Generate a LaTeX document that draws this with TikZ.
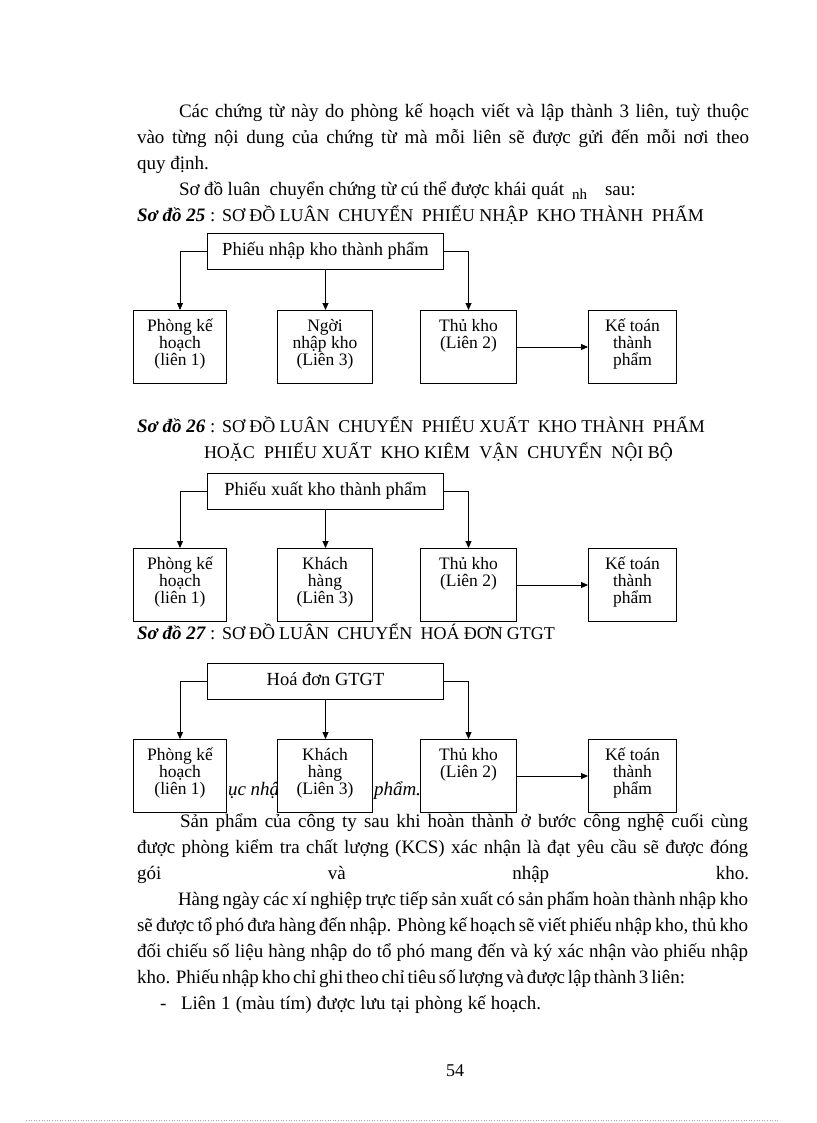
\documentclass[tikz,border=0pt]{standalone}
\usepackage{fontspec}
\setmainfont{Liberation Serif}
\usetikzlibrary{arrows.meta}
\newcommand{\bodyfont}{\fontsize{19pt}{26pt}\selectfont\spaceskip=.25em plus 1fil minus .2em\relax}
\newcommand{\capfont}{\fontsize{18pt}{24pt}\selectfont\spaceskip=.25em plus 1fil minus .2em\relax}
\newcommand{\boxfont}{\fontsize{17.5pt}{17pt}\selectfont\lineskiplimit=-100pt\relax}
\newcommand{\jl}[2]{\makebox[#1][s]{#2}}
\newcommand{\bt}[2]{\parbox[c][73pt][t]{#1}{\centering\boxfont\rule{0pt}{21pt}#2\par}}
\begin{document}
\begin{tikzpicture}[x=1pt,y=-1pt,
  box/.style={draw, line width=1pt, inner sep=0pt, fill=white, anchor=north west},
  topbox/.style={draw, line width=1pt, inner sep=0pt, fill=white, minimum width=236pt, minimum height=36pt, anchor=north west, text height=12pt, text depth=4pt, font=\fontsize{18.5pt}{20pt}\selectfont},
  arr/.style={line width=0.9pt, -{Triangle[length=7pt,width=6pt]}},
  txt/.style={anchor=base west, inner sep=0pt, outer sep=0pt}]
\useasboundingbox[fill=white] (0,0) rectangle (816,1123);

% ---- opening paragraph
\node[txt] (p1) at (179,118) {\bodyfont\jl{570pt}{Các chứng từ này do phòng kế hoạch viết và lập thành 3 liên, tuỳ thuộc}};
\node[txt] (p2) at (137,144) {\bodyfont\jl{612pt}{vào từng nội dung của chứng từ mà mỗi liên sẽ được gửi đến mỗi nơi theo}};
\node[txt] (p3) at (137,170) {\bodyfont quy định.};
\node[txt] (p4) at (179,196) {\bodyfont\jl{385pt}{Sơ đồ luân\ \ chuyển chứng từ cú thể được khái quát}};
\node[txt] (p4b) at (572,200) {\fontsize{15pt}{18pt}\selectfont nh};
\node[txt] (p4c) at (605,196) {\bodyfont sau:};

% ---- titles
\node[txt] (s25) at (137,222) {\bodyfont\bfseries\itshape Sơ đồ 25};
\node[txt] (s25c) at (210,222) {\bodyfont :};
\node[txt] (s25t) at (222,222) {\capfont\jl{482pt}{SƠ ĐỒ LUÂN\ \ CHUYỂN\ \ PHIẾU NHẬP\ \ KHO THÀNH\ \ PHẨM}};

\node[txt] (s26) at (137,432) {\bodyfont\bfseries\itshape Sơ đồ 26};
\node[txt] (s26c) at (210,432) {\bodyfont :};
\node[txt] (s26t) at (222,432) {\capfont\jl{483pt}{SƠ ĐỒ LUÂN\ \ CHUYỂN\ \ PHIẾU XUẤT\ \ KHO THÀNH\ \ PHẨM}};
\node[txt] (s26u) at (204,458) {\capfont\jl{469pt}{HOẶC\ \ PHIẾU XUẤT\ \ KHO KIÊM\ \ VẬN\ \ CHUYỂN\ \ NỘI BỘ}};

\node[txt] (s27) at (137,639) {\bodyfont\bfseries\itshape Sơ đồ 27};
\node[txt] (s27c) at (210,639) {\bodyfont :};
\node[txt] (s27t) at (222,639) {\capfont\jl{333pt}{SƠ ĐỒ LUÂN\ \ CHUYỂN\ \ HOÁ ĐƠN GTGT}};

% ---- italic fragments between the boxes of diagram 27
\node[txt] (f1) at (228,795) {\bodyfont\itshape ục nhậ};
\node[txt] (f2) at (374,795) {\bodyfont\itshape phẩm.};

% ---- diagram 25
\node[topbox] (t25) at (207,233) {Phiếu nhập kho thành phẩm};
\node[box] (a25) at (133,310) {\bt{93pt}{Phòng kế\\hoạch\\(liên 1)}};
\node[box] (b25) at (277,310) {\bt{95pt}{Ngời\\nhập kho\\(Liên 3)}};
\node[box] (c25) at (420,310) {\bt{96pt}{Thủ kho\\(Liên 2)}};
\node[box] (d25) at (588,310) {\bt{88pt}{Kế toán\\thành\\phẩm}};
\draw[arr] (t25.west) -| (a25.north);
\draw[arr] (t25.south) -- (t25.south |- b25.north);
\draw[arr] (t25.east) -| (c25.north);
\draw[arr] (c25.east) -- (d25.west);

% ---- diagram 26
\node[topbox] (t26) at (207,473) {Phiếu xuất kho thành phẩm};
\node[box] (a26) at (133,548) {\bt{93pt}{Phòng kế\\hoạch\\(liên 1)}};
\node[box] (b26) at (277,548) {\bt{95pt}{Khách\\hàng\\(Liên 3)}};
\node[box] (c26) at (420,548) {\bt{96pt}{Thủ kho\\(Liên 2)}};
\node[box] (d26) at (588,548) {\bt{88pt}{Kế toán\\thành\\phẩm}};
\draw[arr] (t26.west) -| (a26.north);
\draw[arr] (t26.south) -- (t26.south |- b26.north);
\draw[arr] (t26.east) -| (c26.north);
\draw[arr] (c26.east) -- (d26.west);

% ---- diagram 27
\node[topbox] (t27) at (207,663) {Hoá đơn GTGT};
\node[box] (a27) at (133,739) {\bt{93pt}{Phòng kế\\hoạch\\(liên 1)}};
\node[box] (b27) at (277,739) {\bt{95pt}{Khách\\hàng\\(Liên 3)}};
\node[box] (c27) at (420,739) {\bt{96pt}{Thủ kho\\(Liên 2)}};
\node[box] (d27) at (588,739) {\bt{88pt}{Kế toán\\thành\\phẩm}};
\draw[arr] (t27.west) -| (a27.north);
\draw[arr] (t27.south) -- (t27.south |- b27.north);
\draw[arr] (t27.east) -| (c27.north);
\draw[arr] (c27.east) -- (d27.west);

% ---- closing paragraphs
\node[txt] (q1) at (180,827) {\bodyfont\jl{568pt}{Sản phẩm của công ty sau khi hoàn thành ở bước công nghệ cuối cùng}};
\node[txt] (q2) at (137,853) {\bodyfont\jl{611pt}{được phòng kiểm tra chất lượng (KCS) xác nhận là đạt yêu cầu sẽ được đóng}};
\node[txt] (q3) at (137,879) {\bodyfont\jl{612pt}{gói và nhập kho.}};
\node[txt] (q4) at (178,905) {\bodyfont\jl{570pt}{Hàng ngày các xí nghiệp trực tiếp sản xuất có sản phẩm hoàn thành nhập kho}};
\node[txt] (q5) at (137,931) {\bodyfont\jl{611pt}{sẽ được tổ phó đưa hàng đến nhập. Phòng kế hoạch sẽ viết phiếu nhập kho, thủ kho}};
\node[txt] (q6) at (137,957) {\bodyfont\jl{611pt}{đối chiếu số liệu hàng nhập do tổ phó mang đến và ký xác nhận vào phiếu nhập}};
\node[txt] (q7) at (137,983) {\bodyfont\jl{548pt}{kho. Phiếu nhập kho chỉ ghi theo chỉ tiêu số lượng và được lập thành 3 liên:}};
\node[txt] (q8a) at (160,1009) {\bodyfont -};
\node[txt] (q8) at (181,1009) {\bodyfont\jl{360pt}{Liên 1 (màu tím) được lưu tại phòng kế hoạch.}};

% ---- page number and footer rule
\node[anchor=base, inner sep=0pt] (pg) at (455,1076) {\fontsize{18pt}{20pt}\selectfont 54};
\coordinate (fl) at (26,1120);
\coordinate (fr) at (780,1120);
\draw[gray!70, dotted, line width=0.6pt] (fl) -- (fr);
\end{tikzpicture}
\end{document}
